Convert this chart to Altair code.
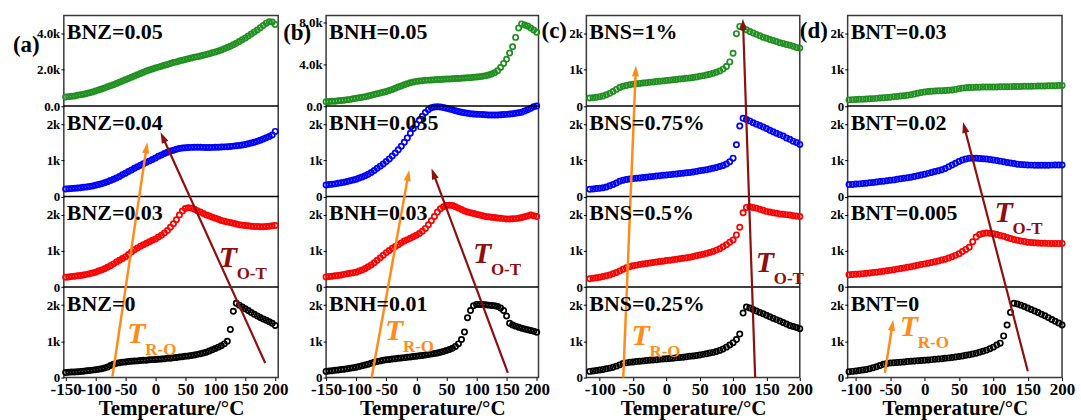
import math
import altair as alt
import pandas as pd

FONT = "Liberation Serif"
ORANGE = "#FF8C1A"
DARK_RED = "#8E0F0F"
GREEN = "#1F8F1F"
BLUE = "#0000FF"
RED = "#FF0000"
BLACK = "#000000"
PANEL_COLORS = [BLACK, RED, BLUE, GREEN]   # bottom -> top

COLUMN_HEIGHT = 363  # four stacked panels share one plot area

# ---------------- temperatures (°C) ----------------
temps_ab = list(range(-150, 205, 5))
temps_c = list(range(-115, 205, 5))
temps_d = list(range(-110, 205, 5))

# ---------------- (a) BNZ ----------------
bnz_0 = [140, 145, 150, 155, 160, 165, 175, 185, 195, 205,
         215, 230, 245, 265, 290, 330, 370, 395, 410, 420,
         430, 440, 450, 455, 460, 470, 475, 480, 490, 495,
         500, 505, 515, 520, 530, 535, 545, 555, 565, 575,
         585, 597, 610, 625, 640, 657, 675, 700, 730, 765,
         800, 840, 880, 930, 1000, 1330, 1830, 2050, 2000, 1950,
         1900, 1850, 1800, 1750, 1700, 1660, 1620, 1580, 1540, 1500,
         1440]
bnz_003 = [270, 280, 290, 300, 310, 320, 335, 350, 370, 390,
           410, 440, 470, 505, 545, 590, 640, 690, 740, 790,
           840, 900, 970, 1030, 1080, 1130, 1170, 1210, 1250, 1290,
           1330, 1380, 1430, 1490, 1560, 1650, 1750, 1860, 1990, 2100,
           2170, 2190, 2180, 2150, 2110, 2070, 2030, 1990, 1960, 1930,
           1900, 1870, 1840, 1820, 1800, 1780, 1760, 1740, 1720, 1710,
           1700, 1690, 1680, 1675, 1670, 1665, 1665, 1670, 1680, 1690,
           1700]
bnz_004 = [210, 215, 220, 228, 236, 245, 255, 265, 277, 293,
           310, 330, 355, 380, 410, 440, 475, 515, 555, 600,
           645, 690, 735, 780, 825, 865, 905, 945, 985, 1025,
           1065, 1110, 1150, 1190, 1225, 1255, 1280, 1305, 1325, 1340,
           1350, 1355, 1358, 1360, 1360, 1359, 1358, 1357, 1357, 1358,
           1360, 1363, 1367, 1372, 1378, 1385, 1393, 1402, 1413, 1425,
           1440, 1458, 1478, 1500, 1525, 1555, 1590, 1625, 1660, 1700,
           1800]
bnz_005 = [500, 520, 540, 560, 590, 620, 650, 690, 730, 780,
           830, 880, 940, 1000, 1060, 1120, 1180, 1240, 1310, 1380,
           1450, 1520, 1590, 1660, 1730, 1800, 1870, 1930, 1990, 2050,
           2100, 2150, 2200, 2250, 2300, 2350, 2400, 2440, 2490, 2530,
           2570, 2610, 2650, 2690, 2730, 2770, 2810, 2850, 2890, 2940,
           2990, 3040, 3100, 3160, 3230, 3300, 3380, 3470, 3560, 3660,
           3760, 3870, 3980, 4090, 4200, 4320, 4450, 4580, 4660, 4640,
           4500]

# ---------------- (b) BNH ----------------
bnh_001 = [170, 180, 190, 200, 210, 220, 230, 240, 255, 270,
           285, 305, 325, 345, 370, 395, 420, 440, 460, 475,
           490, 500, 510, 520, 530, 540, 550, 560, 570, 580,
           590, 600, 610, 620, 635, 650, 665, 680, 700, 720,
           745, 775, 810, 860, 930, 1050, 1260, 1650, 1850, 1980,
           2020, 2020, 2020, 2010, 2000, 1990, 1980, 1960, 1920, 1850,
           1700, 1500, 1450, 1420, 1390, 1360, 1340, 1320, 1300, 1280,
           1250]
bnh_003 = [280, 290, 300, 310, 320, 335, 350, 365, 380, 395,
           410, 440, 470, 510, 560, 610, 670, 740, 810, 880,
           950, 1010, 1070, 1120, 1170, 1220, 1270, 1310, 1350, 1390,
           1430, 1480, 1540, 1620, 1720, 1830, 1950, 2070, 2160, 2220,
           2250, 2260, 2250, 2220, 2180, 2140, 2100, 2070, 2050, 2030,
           2010, 1990, 1970, 1950, 1940, 1930, 1920, 1910, 1900, 1890,
           1880, 1880, 1885, 1890, 1900, 1920, 1940, 1960, 1990, 1970,
           1950]
bnh_0035 = [320, 330, 340, 350, 365, 380, 395, 415, 435, 455,
            480, 510, 540, 575, 615, 665, 720, 780, 840, 900,
            965, 1040, 1120, 1200, 1290, 1390, 1500, 1620, 1750, 1880,
            2000, 2110, 2220, 2320, 2400, 2450, 2475, 2480, 2475, 2460,
            2440, 2420, 2395, 2370, 2350, 2330, 2315, 2300, 2290, 2280,
            2275, 2270, 2265, 2260, 2255, 2255, 2255, 2255, 2260, 2265,
            2270, 2280, 2290, 2300, 2315, 2330, 2360, 2400, 2440, 2480,
            2500]
bnh_005 = [410, 430, 450, 470, 500, 530, 560, 600, 640, 690,
           740, 790, 840, 900, 960, 1030, 1100, 1180, 1250, 1320,
           1400, 1500, 1600, 1710, 1820, 1930, 2040, 2140, 2230, 2310,
           2370, 2410, 2440, 2470, 2490, 2510, 2530, 2550, 2560, 2580,
           2590, 2610, 2620, 2640, 2650, 2670, 2690, 2710, 2730, 2760,
           2790, 2820, 2860, 2910, 2980, 3070, 3200, 3400, 3700, 4100,
           4500, 5100, 5700, 6600, 7500, 7900, 7800, 7700, 7500, 7300,
           7100]

# ---------------- (c) BNS ----------------
bns_025 = [170, 180, 195, 210, 225, 240, 260, 285, 315, 350,
           385, 405, 420, 430, 440, 450, 460, 470, 478, 486,
           494, 502, 510, 518, 526, 535, 544, 553, 563, 573,
           585, 597, 610, 625, 640, 657, 675, 695, 720, 750,
           790, 840, 900, 960, 1050, 1200, 1780, 1950, 1920, 1880,
           1840, 1800, 1760, 1720, 1680, 1640, 1600, 1560, 1520, 1480,
           1440, 1410, 1380, 1350]
bns_05 = [230, 240, 255, 270, 290, 310, 335, 365, 400, 440,
          490, 530, 560, 585, 605, 620, 635, 650, 665, 680,
          690, 705, 715, 730, 740, 755, 765, 780, 795, 810,
          825, 845, 865, 885, 905, 930, 955, 985, 1020, 1060,
          1110, 1170, 1240, 1300, 1440, 1650, 2050, 2200, 2220, 2200,
          2180, 2150, 2120, 2090, 2070, 2050, 2040, 2020, 2010, 2000,
          1990, 1970, 1960, 1950]
bns_075 = [200, 210, 220, 230, 245, 265, 295, 330, 375, 420,
           450, 470, 485, 495, 505, 515, 525, 535, 545, 555,
           565, 575, 585, 595, 605, 615, 625, 635, 645, 655,
           665, 680, 695, 710, 725, 740, 760, 780, 800, 830,
           860, 900, 960, 1060, 1430, 1950, 2160, 2130, 2090, 2040,
           2000, 1960, 1920, 1880, 1830, 1790, 1750, 1710, 1670, 1620,
           1580, 1530, 1490, 1440]
bns_1 = [220, 230, 245, 260, 280, 310, 350, 400, 460, 510,
         545, 570, 590, 605, 615, 625, 635, 645, 655, 665,
         675, 685, 695, 705, 715, 725, 735, 745, 755, 765,
         775, 790, 805, 820, 840, 860, 880, 905, 935, 970,
         1020, 1090, 1220, 1460, 2000, 2200, 2160, 2110, 2060, 2020,
         1980, 1940, 1900, 1870, 1840, 1810, 1780, 1750, 1730, 1700,
         1680, 1650, 1620, 1600]

# ---------------- (d) BNT ----------------
bnt_0 = [160, 170, 180, 195, 210, 225, 245, 270, 300, 330,
         365, 385, 400, 410, 418, 425, 432, 440, 447, 455,
         462, 470, 478, 486, 495, 503, 512, 522, 532, 543,
         555, 568, 582, 597, 613, 630, 650, 672, 697, 725,
         757, 795, 840, 900, 950, 1150, 1450, 1800, 2050, 2030,
         2000, 1960, 1920, 1880, 1840, 1795, 1750, 1705, 1655, 1605,
         1555, 1505, 1450]
bnt_0005 = [340, 345, 355, 362, 370, 380, 390, 400, 410, 425,
            435, 450, 465, 480, 495, 510, 525, 545, 560, 580,
            600, 620, 640, 660, 680, 700, 720, 745, 770, 800,
            835, 875, 920, 980, 1040, 1100, 1250, 1380, 1450, 1480,
            1490, 1485, 1470, 1450, 1425, 1400, 1370, 1340, 1315, 1290,
            1270, 1255, 1240, 1230, 1222, 1215, 1210, 1208, 1206, 1205,
            1205, 1205, 1205]
bnt_002 = [330, 335, 345, 350, 360, 370, 380, 390, 400, 415,
           425, 435, 450, 460, 475, 490, 505, 520, 535, 555,
           575, 595, 615, 640, 665, 690, 715, 740, 775, 820,
           870, 920, 970, 1010, 1040, 1055, 1060, 1058, 1052, 1045,
           1035, 1022, 1008, 993, 978, 960, 942, 925, 910, 895,
           885, 878, 872, 868, 865, 864, 864, 865, 866, 868,
           869, 870, 872]
bnt_003 = [170, 175, 180, 185, 190, 195, 200, 205, 212, 220,
           228, 236, 245, 255, 265, 275, 285, 295, 310, 330,
           355, 375, 390, 400, 410, 415, 420, 425, 430, 435,
           445, 460, 480, 495, 505, 510, 515, 520, 522, 524,
           525, 526, 527, 528, 530, 532, 534, 536, 538, 540,
           542, 544, 546, 548, 550, 552, 554, 556, 558, 560,
           563, 566, 570]

# ---------------- axis tick labels ----------------
TICKS_K = [(0, "0"), (1000, "1k"), (2000, "2k")]
TICKS_A_TOP = [(0, "0.0"), (2000, "2.0k"), (4000, "4.0k")]
TICKS_B_TOP = [(0, "0.0"), (4000, "4.0k"), (8000, "8.0k")]
X_TICKS_AB = [-150, -100, -50, 0, 50, 100, 150, 200]
X_TICKS_CD = [-100, -50, 0, 50, 100, 150, 200]

ARROWHEAD = "M0,0L0.42,1.3L-0.42,1.3Z"


def build_column(temps, series, names, ymax, tick_sets, x_domain, x_ticks,
                 width, letter, letter_xy, arrows, tags):
    ppc = width / (x_domain[1] - x_domain[0])
    ppy = COLUMN_HEIGHT / 4

    rows = []
    for k, (vals, name) in enumerate(zip(series, names)):
        for t, v in zip(temps, vals):
            rows.append({"T": t, "Y": k + v / ymax[k], "s": name})
    df = pd.DataFrame(rows)

    tick_vals, tick_text = [], []
    for k, ts in enumerate(tick_sets):
        for v, lab in ts:
            tick_vals.append(round(k + v / ymax[k], 6))
            tick_text.append(lab)
    label_expr = ("[" + ",".join(f"'{s}'" for s in tick_text) + "][indexof(["
                  + ",".join(repr(v) for v in tick_vals) + "], datum.value)]")

    xs = alt.Scale(domain=x_domain, nice=False, zero=False)
    ys = alt.Scale(domain=[0, 4], nice=False, zero=False)
    x_axis = alt.Axis(
        values=x_ticks, labelExpr="datum.value + ''", title="Temperature/°C",
        grid=False, domain=False, tickSize=3, tickColor="black",
        labelFont=FONT, labelFontSize=17, labelFontWeight="bold",
        labelColor="black", labelPadding=1, labelOverlap=False,
        labelFlush=False, labelBound=False, titleFont=FONT, titleFontSize=21,
        titleFontWeight="bold", titleColor="black", titlePadding=0)
    y_axis = alt.Axis(
        values=tick_vals, labelExpr=label_expr, title=None, grid=False,
        domain=False, tickSize=3, tickColor="black", labelFont=FONT,
        labelFontSize=13, labelFontWeight="bold", labelColor="black",
        labelPadding=1, labelOverlap=False, labelFlush=False, labelBound=False)
    x_enc = alt.X("T:Q", scale=xs, axis=x_axis)
    y_enc = alt.Y("Y:Q", scale=ys, axis=y_axis)

    points = alt.Chart(df).mark_point(
        filled=False, size=28, strokeWidth=1.7, opacity=1
    ).encode(
        x=x_enc, y=y_enc,
        color=alt.Color("s:N", scale=alt.Scale(domain=names, range=PANEL_COLORS),
                        legend=None),
    )

    dividers = alt.Chart(pd.DataFrame({"Y": [1, 2, 3]})).mark_rule(
        color="black", strokeWidth=1.5
    ).encode(y=y_enc)

    panel_names = pd.DataFrame({"Y": [1, 2, 3, 4], "label": names})
    name_text = alt.Chart(panel_names).mark_text(
        align="left", baseline="alphabetic", dy=24, font=FONT,
        fontSize=22, fontWeight="bold", color="black"
    ).encode(x=alt.value(3), y=y_enc, text="label:N")

    letter_text = alt.Chart(pd.DataFrame({"t": [letter]})).mark_text(
        align="left", baseline="alphabetic", font=FONT, fontSize=23,
        fontWeight="bold", color="black"
    ).encode(x=alt.value(letter_xy[0]), y=alt.value(letter_xy[1]), text="t:N")

    layers = [points, dividers]

    for (start, tip, color, sw) in arrows:
        dx = (tip[0] - start[0]) * ppc
        dy = -(tip[1] - start[1]) * ppy
        length = math.hypot(dx, dy)
        ux, uy = dx / length, dy / length
        back = 8.0
        end = (tip[0] - ux * back / ppc, tip[1] + uy * back / ppy)
        seg = pd.DataFrame({"T": [start[0], end[0]], "Y": [start[1], end[1]]})
        layers.append(alt.Chart(seg).mark_line(color=color, strokeWidth=sw).encode(
            x=x_enc, y=y_enc))
        angle = math.degrees(math.atan2(dx, -dy)) % 360
        head = pd.DataFrame({"T": [tip[0]], "Y": [tip[1]]})
        layers.append(alt.Chart(head).mark_point(
            shape=ARROWHEAD, size=290, filled=True, color=color, opacity=1,
            strokeWidth=0, angle=angle
        ).encode(x=x_enc, y=y_enc))

    for (anchor, sub, color) in tags:
        tag_df = pd.DataFrame({"T": [anchor[0]], "Y": [anchor[1]],
                               "main": ["T"], "sub": [sub]})
        layers.append(alt.Chart(tag_df).mark_text(
            align="left", baseline="alphabetic", font=FONT, fontSize=30,
            fontWeight="bold", fontStyle="italic", color=color
        ).encode(x=x_enc, y=y_enc, text="main:N"))
        layers.append(alt.Chart(tag_df).mark_text(
            align="left", baseline="alphabetic", font=FONT, fontSize=17,
            fontWeight="bold", color=color, dx=18, dy=12
        ).encode(x=x_enc, y=y_enc, text="sub:N"))

    layers += [name_text, letter_text]
    return alt.layer(*layers).properties(width=width, height=COLUMN_HEIGHT)


col_a = build_column(
    temps_ab, [bnz_0, bnz_003, bnz_004, bnz_005],
    ["BNZ=0", "BNZ=0.03", "BNZ=0.04", "BNZ=0.05"],
    [2500, 2500, 2500, 5000], [TICKS_K, TICKS_K, TICKS_K, TICKS_A_TOP],
    [-153, 205], X_TICKS_AB, 215, "(a)", (-51, 37),
    arrows=[((-71.9, 0.01), (-13.6, 2.60), ORANGE, 2.5),
            ((183.3, 0.16), (8.5, 2.71), DARK_RED, 2.2)],
    tags=[((-46.9, 0.382), "R-O", ORANGE), ((105.6, 1.226), "O-T", DARK_RED)],
)

col_b = build_column(
    temps_ab, [bnh_001, bnh_003, bnh_0035, bnh_005],
    ["BNH=0.01", "BNH=0.03", "BNH=0.035", "BNH=0.05"],
    [2500, 2500, 2500, 8700], [TICKS_K, TICKS_K, TICKS_K, TICKS_B_TOP],
    [-150, 203], X_TICKS_AB, 213, "(b)", (-43, 25),
    arrows=[((-74.3, 0.0), (-11.9, 2.292), ORANGE, 2.5),
            ((152.1, 0.052), (25.2, 2.311), DARK_RED, 2.2)],
    tags=[((-52.2, 0.419), "R-O", ORANGE), ((94.1, 1.264), "O-T", DARK_RED)],
)

col_c = build_column(
    temps_c, [bns_025, bns_05, bns_075, bns_1],
    ["BNS=0.25%", "BNS=0.5%", "BNS=0.75%", "BNS=1%"],
    [2500, 2500, 2500, 2500], [TICKS_K, TICKS_K, TICKS_K, TICKS_K],
    [-120, 200], X_TICKS_CD, 214, "(c)", (-45, 23),
    arrows=[((-64.7, 0.0), (-45.7, 3.449), ORANGE, 2.5),
            ((133.1, 0.0), (114.7, 3.964), DARK_RED, 2.2)],
    tags=[((-52.3, 0.364), "R-O", ORANGE), ((134.1, 1.171), "O-T", DARK_RED)],
)

col_d = build_column(
    temps_d, [bnt_0, bnt_0005, bnt_002, bnt_003],
    ["BNT=0", "BNT=0.005", "BNT=0.02", "BNT=0.03"],
    [2500, 2500, 2500, 2500], [TICKS_K, TICKS_K, TICKS_K, TICKS_K],
    [-112, 200], X_TICKS_CD, 215, "(d)", (-48, 23),
    arrows=[((-57.9, 0.052), (-45.7, 0.639), ORANGE, 2.5),
            ((150.2, 0.069), (55.9, 2.824), DARK_RED, 2.2)],
    tags=[((-36.1, 0.455), "R-O", ORANGE), ((101.8, 1.722), "O-T", DARK_RED)],
)

chart = alt.hconcat(col_a, col_b, col_c, col_d, spacing=48, bounds="flush").configure_view(
    stroke="#3a3a3a", strokeWidth=1.5
).configure_axis(
    labelFont=FONT, labelFontWeight="bold", labelColor="black",
    titleFont=FONT, titleFontWeight="bold", titleColor="black",
).configure_axisX(
    labelFontSize=17,
).configure_axisY(
    labelFontSize=13,
).properties(
    padding={"left": 12, "top": 14, "right": 5, "bottom": 0},
    background="white",
)

chart.save("out.html", embed_options={"renderer": "svg", "actions": False})
